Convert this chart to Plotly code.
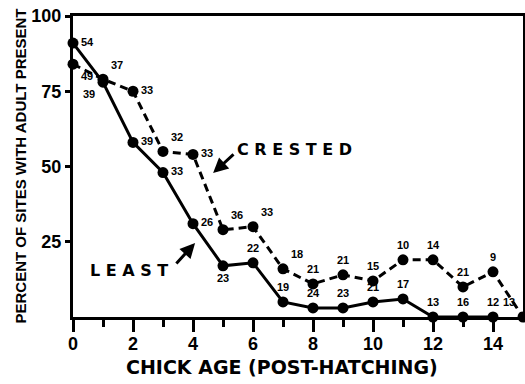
import plotly.graph_objects as go

# ---- data ----
age = list(range(0, 16))
least_age = list(range(0, 15))
least_pct = [91, 78, 58, 48, 31, 17, 18, 5, 3, 3, 5, 6, 0, 0, 0]
least_n = ["54", "39", "39", "33", "26", "23", "22", "19", "24", "23", "21", "17", "13", "16", "12"]
crested_pct = [84, 79, 75, 55, 54, 29, 30, 16, 11, 14, 12, 19, 19, 10, 15, 0]
crested_n = ["49", "37", "33", "32", "33", "36", "33", "18", "21", "21", "15", "10", "14", "21", "9", "13"]
x_ticks = [0, 2, 4, 6, 8, 10, 12, 14]
x_minor = [1, 3, 5, 7, 9, 11, 13]
y_ticks = [25, 50, 75, 100]

# label placement (style)
least_pos = ["middle right", "bottom left", "middle right", "middle right", "middle right",
             "bottom center"] + ["top center"] * 9
crested_pos = ["bottom right", "top right", "middle right", "top right", "middle right",
               "top right", "top right", "top right"] + ["top center"] * 7 + ["top left"]

LAB = dict(family="Liberation Sans, Arial, sans-serif", size=11, color="black", weight="bold")

fig = go.Figure()
fig.add_trace(go.Scatter(
    x=least_age, y=least_pct, mode="lines+markers+text",
    line=dict(color="black", width=3),
    marker=dict(color="black", size=11),
    text=least_n, textposition=least_pos, textfont=LAB,
    cliponaxis=False, showlegend=False))
fig.add_trace(go.Scatter(
    x=age, y=crested_pct, mode="lines+markers+text",
    line=dict(color="black", width=3, dash="8px,5px"),
    marker=dict(color="black", size=11),
    text=crested_n, textposition=crested_pos, textfont=LAB,
    cliponaxis=False, showlegend=False))

TF = dict(family="Liberation Sans, Arial, sans-serif", size=18, color="black", weight="bold")

fig.update_xaxes(range=[0, 15], showline=True, linecolor="black", linewidth=3, mirror=True,
                 showgrid=False, zeroline=False, tickmode="array", tickvals=x_ticks,
                 ticks="outside", ticklen=12, tickwidth=3, tickcolor="black", tickfont=TF,
                 ticklabelstandoff=-4, automargin=False,
                 minor=dict(tickmode="array", tickvals=x_minor, ticks="outside", ticklen=7,
                            tickwidth=3, tickcolor="black"))
fig.update_yaxes(range=[0, 100], showline=True, linecolor="black", linewidth=3, mirror=True,
                 showgrid=False, zeroline=False, tickmode="array", tickvals=y_ticks,
                 ticks="outside", ticklen=5, tickwidth=3, tickcolor="black", tickfont=TF,
                 automargin=False)

ANN = dict(family="DejaVu Sans, sans-serif", size=16, color="black", weight="bold")
fig.add_annotation(x=7.37, y=55.8, xref="x", yref="y", text="C R E S T E D",
                   showarrow=False, font=ANN)
fig.add_annotation(x=4.67, y=47.8, ax=5.4, ay=54.5, xref="x", yref="y", axref="x", ayref="y",
                   text="", showarrow=True, arrowhead=2, arrowsize=1, arrowwidth=3, arrowcolor="black")
fig.add_annotation(x=1.87, y=15.6, xref="x", yref="y", text="L E A S T",
                   showarrow=False, font=ANN)
fig.add_annotation(x=4.07, y=24.6, ax=3.4, ay=17.3, xref="x", yref="y", axref="x", ayref="y",
                   text="", showarrow=True, arrowhead=2, arrowsize=1, arrowwidth=3, arrowcolor="black")

fig.add_annotation(x=(282 - 73) / 450, y=(317 - 367) / 301, xref="paper", yref="paper",
                   text="CHICK AGE (POST-HATCHING)", showarrow=False,
                   font=dict(family="DejaVu Sans, sans-serif", size=19, color="black", weight="bold"),
                   xanchor="center", yanchor="middle")
fig.add_annotation(x=(20 - 73) / 450, y=0.5, xref="paper", yref="paper",
                   text="PERCENT OF SITES WITH ADULT PRESENT", showarrow=False, textangle=-90,
                   font=dict(family="Liberation Sans, Arial, sans-serif", size=15, color="black", weight="bold"),
                   xanchor="center", yanchor="middle")

fig.update_layout(width=525, height=384, margin=dict(l=73, r=2, t=16, b=67, autoexpand=False),
                  paper_bgcolor="white", plot_bgcolor="white")

fig.write_html("out.html", config={"displayModeBar": False},
               post_script="document.body.style.margin='0';document.body.style.overflow='hidden';")
